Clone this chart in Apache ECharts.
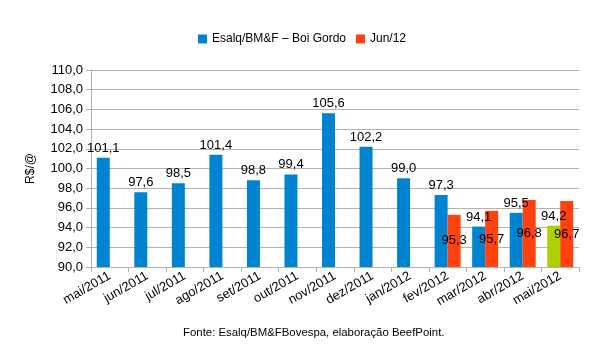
<!DOCTYPE html>
<html><head><meta charset="utf-8">
<script src="https://cdn.jsdelivr.net/npm/echarts@6/dist/echarts.min.js"></script>
<style>html,body{margin:0;padding:0;background:#fff}#c{width:604px;height:363px}</style>
</head><body><div id="c"></div>
<script>
const categories = ['mai/2011','jun/2011','jul/2011','ago/2011','set/2011','out/2011','nov/2011','dez/2011','jan/2012','fev/2012','mar/2012','abr/2012','mai/2012'];
const esalq = [101.1, 97.6, 98.5, 101.4, 98.8, 99.4, 105.6, 102.2, 99.0, 97.3, 94.1, 95.5, 94.2];
const jun12 = [null, null, null, null, null, null, null, null, null, 95.3, 95.7, 96.8, 96.7];
const highlightIndex = 12;
const fmt = v => v.toFixed(1).replace('.', ',');
const F = 'Liberation Sans, Arial, sans-serif';
const chart = echarts.init(document.getElementById('c'));
chart.setOption({
  animation: false,
  textStyle: { fontFamily: F },
  legend: {
    top: 28, left: 'center', itemWidth: 9, itemHeight: 9, itemGap: 10,
    icon: 'rect',
    textStyle: { fontSize: 12, color: '#000', fontFamily: F },
    data: ['Esalq/BM&F – Boi Gordo', 'Jun/12']
  },
  grid: { left: 91, right: 25, top: 70, bottom: 96 },
  xAxis: {
    type: 'category', data: categories,
    axisLine: { lineStyle: { color: '#b3b3b3' } },
    axisTick: { show: true, length: 5, lineStyle: { color: '#b3b3b3' } },
    axisLabel: { rotate: 30, fontSize: 13, color: '#000', fontFamily: F, margin: 8 }
  },
  yAxis: {
    type: 'value', min: 90, max: 110, interval: 2,
    name: 'R$/@', nameLocation: 'middle', nameGap: 54, nameRotate: 90,
    nameTextStyle: { fontSize: 12, color: '#000', fontFamily: F },
    axisLine: { show: true, lineStyle: { color: '#b3b3b3' } },
    axisTick: { show: true, length: 5, lineStyle: { color: '#b3b3b3' } },
    splitLine: { lineStyle: { color: '#b3b3b3' } },
    axisLabel: { fontSize: 13, color: '#000', fontFamily: F, formatter: v => fmt(v) }
  },
  series: [
    {
      name: 'Esalq/BM&F – Boi Gordo', type: 'bar', barWidth: 13, barGap: '0%',
      itemStyle: { color: '#0084d1' },
      data: esalq.map((v, i) => i === highlightIndex ? { value: v, itemStyle: { color: '#aecf00' } } : v),
      label: { show: true, position: 'top', distance: 3, fontSize: 13, color: '#000', fontFamily: F, formatter: p => fmt(p.value) }
    },
    {
      name: 'Jun/12', type: 'bar', barWidth: 13,
      itemStyle: { color: '#ff420e' },
      data: jun12,
      label: { show: true, position: 'inside', fontSize: 13, color: '#000', fontFamily: F, formatter: p => p.value == null ? '' : fmt(p.value) }
    }
  ],
  graphic: [{
    type: 'text', left: 183, top: 327, z: 10,
    style: { text: 'Fonte: Esalq/BM&FBovespa, elaboração BeefPoint.', fontSize: 11.4, fill: '#000', fontFamily: F }
  }]
});
</script></body></html>
